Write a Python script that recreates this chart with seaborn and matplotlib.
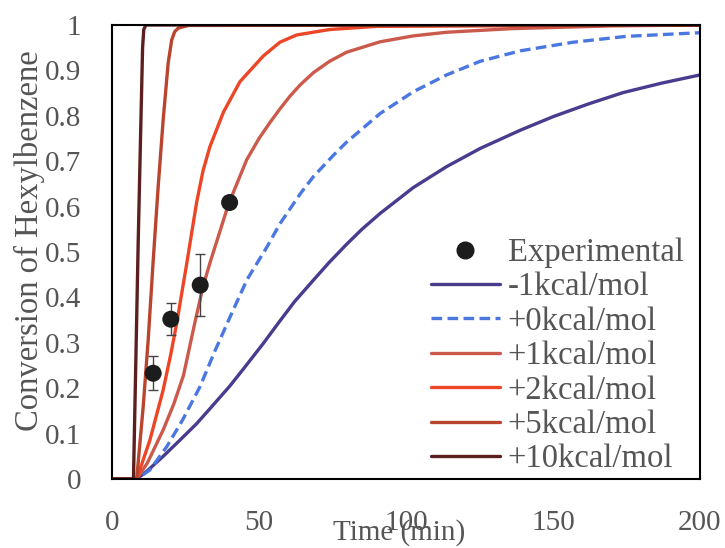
import pandas as pd
import seaborn as sns
import matplotlib.pyplot as plt
from matplotlib.lines import Line2D

# Experimental points
exp_t = [14, 20, 30, 40]
exp_c = [0.233, 0.352, 0.427, 0.609]
exp_err = [0.037, 0.035, 0.069, 0.0]

# Model curves
t_m1 = [0, 8.4, 12, 17.4, 23, 28.8, 34, 40.1, 45, 51.5, 57.1, 62, 68.5, 74, 79.8, 85,
        91.2, 102.5, 113.8, 125.2, 138.8, 150, 162, 173.8, 187, 200]
c_m1 = [0, 0, 0.018, 0.05, 0.085, 0.122, 0.16, 0.205, 0.245, 0.299, 0.348, 0.39, 0.438,
        0.478, 0.517, 0.55, 0.585, 0.642, 0.688, 0.728, 0.768, 0.798, 0.826, 0.851, 0.872, 0.89]

t_0 = [0, 8.4, 12.9, 18.6, 24, 29.9, 35, 41.2, 46, 52.6, 57.1, 64, 68.5, 75.3, 79.8,
       91.2, 102.5, 113.8, 125.2, 138.8, 156.8, 175, 200]
c_0 = [0, 0, 0.02, 0.071, 0.13, 0.203, 0.282, 0.372, 0.44, 0.51, 0.562, 0.628, 0.666,
       0.713, 0.742, 0.805, 0.853, 0.89, 0.92, 0.943, 0.962, 0.975, 0.983]

t_p1 = [0, 8.4, 12, 17.4, 21, 24.3, 28.2, 31, 33.5, 36.2, 39.6, 45.8, 50, 53.7, 57.1,
        60.5, 64, 68.5, 74, 79.8, 91.2, 102.5, 113.8, 136, 170, 200]
c_p1 = [0, 0, 0.035, 0.108, 0.165, 0.228, 0.345, 0.425, 0.48, 0.535, 0.605, 0.703, 0.75,
        0.785, 0.815, 0.843, 0.868, 0.895, 0.92, 0.94, 0.963, 0.976, 0.984, 0.992, 0.998, 1.0]

t_p2 = [0, 8.4, 12.9, 17.4, 20, 22, 25.3, 28.8, 31, 33.3, 37.9, 43.5, 51.5, 57.1, 62.8,
        74, 90, 200]
c_p2 = [0, 0, 0.086, 0.196, 0.275, 0.343, 0.47, 0.61, 0.68, 0.732, 0.808, 0.875, 0.932,
        0.962, 0.978, 0.99, 0.997, 1.0]

t_p5 = [0, 8.4, 10.6, 12.3, 14.0, 15.7, 17.4, 19.1, 20.3, 21.3, 22.5, 26, 200]
c_p5 = [0, 0, 0.159, 0.306, 0.48, 0.644, 0.791, 0.916, 0.967, 0.985, 0.993, 0.999, 1.0]

t_p10 = [0, 7.3, 8.1, 8.9, 9.8, 10.4, 10.8, 11.5, 200]
c_p10 = [0, 0, 0.26, 0.52, 0.78, 0.95, 0.99, 1.0, 1.0]

labels = ['-1kcal/mol', '+0kcal/mol', '+1kcal/mol', '+2kcal/mol', '+5kcal/mol', '+10kcal/mol']
colors = ['#4a3b8e', '#4a78e0', '#cc5a4c', '#ec4626', '#b9452e', '#5a1f1e']
curves = [(t_m1, c_m1), (t_0, c_0), (t_p1, c_p1), (t_p2, c_p2), (t_p5, c_p5), (t_p10, c_p10)]

df = pd.concat([pd.DataFrame({'t': t, 'c': c, 'series': lab})
                for (t, c), lab in zip(curves, labels)], ignore_index=True)
exp_df = pd.DataFrame({'t': exp_t, 'c': exp_c})

sns.set_theme(style="white")
plt.rcParams['font.family'] = ['Liberation Serif', 'DejaVu Serif']
plt.rcParams['lines.solid_joinstyle'] = 'round'
txt = '#555555'

fig = plt.figure(figsize=(7.25, 5.48), dpi=100)
ax = fig.add_axes([0.1545, 0.1259, 0.811, 0.8285])

sns.lineplot(data=df, x='t', y='c', hue='series', style='series',
             palette=dict(zip(labels, colors)),
             dashes={lab: ((3.2, 1.6) if lab == '+0kcal/mol' else '') for lab in labels},
             sort=False, estimator=None, linewidth=2.4, legend=False, ax=ax)

ax.errorbar(exp_t, exp_c, yerr=exp_err, fmt='none', ecolor='#444444',
            elinewidth=1.0, capsize=3.6, capthick=1.0, zorder=4)
sns.scatterplot(data=exp_df, x='t', y='c', color='#1c1c1c', s=150,
                edgecolor='none', zorder=5, ax=ax)

ax.set_xlim(0, 200)
ax.set_ylim(0, 1)
ax.set_xticks([0, 50, 100, 150, 200])
ax.set_yticks([i / 10 for i in range(11)])
ax.set_yticklabels(['0'] + [f'{i/10:.1f}' for i in range(1, 10)] + ['1'])
ax.tick_params(axis='x', direction='in', length=6, width=1.3, color='black',
               pad=22, labelsize=21, labelcolor=txt)
ax.tick_params(axis='y', length=0, pad=22, labelsize=21, labelcolor=txt)
for s in ax.spines.values():
    s.set_color('black')
    s.set_linewidth(1.5)

ax.set_xlabel('Time (min)', fontsize=21, color=txt)
ax.xaxis.set_label_coords(0.488, -0.088)
ax.set_ylabel('Conversion of Hexylbenzene', fontsize=23.5, color=txt)
ax.yaxis.set_label_coords(-0.114, 0.526)

handles = [Line2D([], [], marker='o', color='#1c1c1c', linestyle='none', markersize=12)]
for lab, col in zip(labels, colors):
    ls = (0, (3.2, 1.6)) if lab == '+0kcal/mol' else '-'
    handles.append(Line2D([], [], color=col, linewidth=2.4, linestyle=ls))
leg = ax.legend(handles, ['Experimental'] + labels, loc='upper left',
                bbox_to_anchor=(0.5425, 0.532), frameon=False, fontsize=23.5,
                borderaxespad=0, borderpad=0, handlelength=2.1,
                handletextpad=0.25, labelspacing=0.12)
for t in leg.get_texts():
    t.set_color(txt)

fig.savefig('out.png', dpi=100)
